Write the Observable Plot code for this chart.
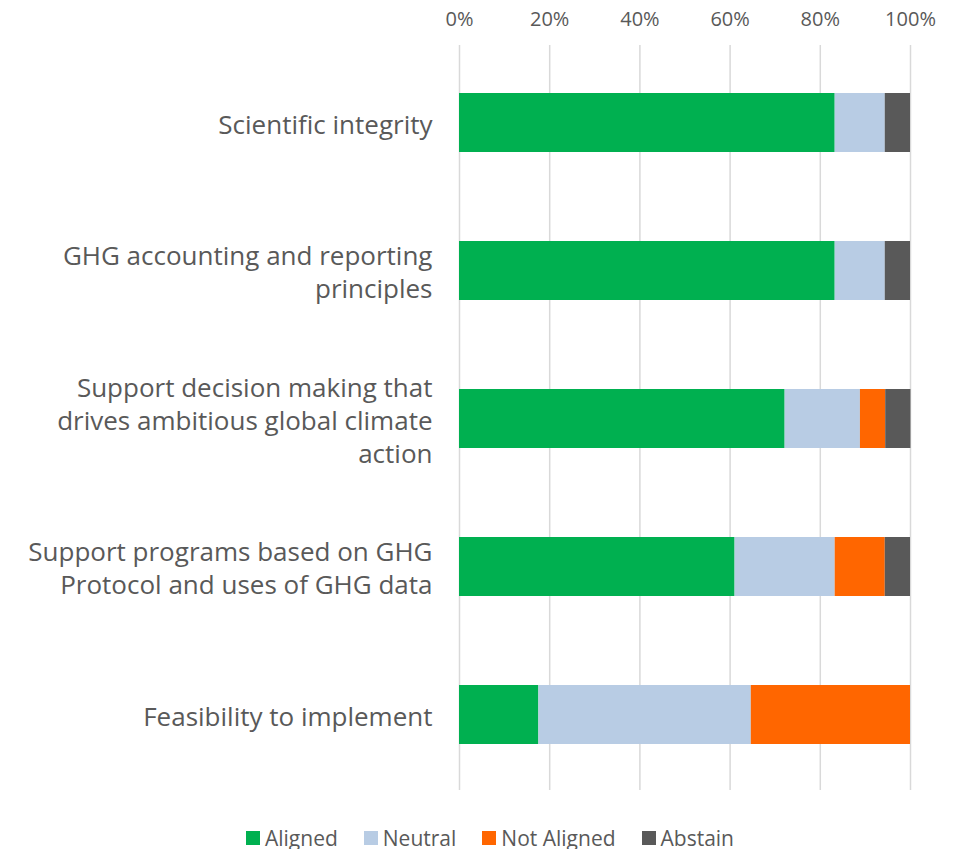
<!DOCTYPE html>
<html>
<head>
<meta charset="utf-8">
<script src="https://cdn.jsdelivr.net/npm/d3@7"></script>
<script src="https://cdn.jsdelivr.net/npm/@observablehq/plot@0.6"></script>
<style>
  body { margin: 0; background: #fff; font-family: "Open Sans", sans-serif; }
  #chart { width: 966px; }
  .legend { display: flex; justify-content: center; gap: 26px; margin-left: 14px; margin-top: 27px; font-size: 21px; line-height: 22px; color: #595959; font-family: "Open Sans", sans-serif; }
  .legend span.item { display: flex; align-items: center; gap: 5px; }
  .legend span.sw { width: 14px; height: 14px; display: inline-block; }
</style>
</head>
<body>
<div id="chart"></div>
<script>
const categories = [
  "Scientific integrity",
  "GHG accounting and reporting principles",
  "Support decision making that drives ambitious global climate action",
  "Support programs based on GHG Protocol and uses of GHG data",
  "Feasibility to implement"
];
const categoryLabels = [
  "Scientific integrity",
  "GHG accounting and reporting\nprinciples",
  "Support decision making that\ndrives ambitious global climate\naction",
  "Support programs based on GHG\nProtocol and uses of GHG data",
  "Feasibility to implement"
];
const seriesNames = ["Aligned", "Neutral", "Not Aligned", "Abstain"];
const seriesColors = ["#00B050", "#B8CCE4", "#FF6600", "#595959"];
const aligned    = [83.3, 83.3, 72.2, 61.1, 17.6];
const neutral    = [11.1, 11.1, 16.7, 22.2, 47.1];
const notAligned = [0.0, 0.0, 5.6, 11.1, 35.3];
const abstain    = [5.6, 5.6, 5.6, 5.6, 0.0];
const xTicks = [0, 20, 40, 60, 80, 100];

const seriesValues = [aligned, neutral, notAligned, abstain];
const rows = [];
categories.forEach((c, i) => {
  seriesNames.forEach((s, j) => {
    rows.push({category: c, series: s, value: seriesValues[j][i]});
  });
});
const labelMap = new Map(categories.map((c, i) => [c, categoryLabels[i]]));

const plot = Plot.plot({
  width: 966,
  height: 800,
  marginTop: 49,
  marginBottom: 11,
  marginLeft: 459,
  marginRight: 56,
  style: {fontFamily: "Open Sans, sans-serif", color: "#595959", background: "#fff"},
  x: {domain: [0, 100], ticks: xTicks, axis: null, label: null},
  y: {domain: categories, paddingInner: 0.6, paddingOuter: 0.3, axis: null, label: null},
  color: {domain: seriesNames, range: seriesColors},
  marks: [
    Plot.ruleX(xTicks, {stroke: "#d9d9d9", strokeWidth: 1.5, insetTop: -4, insetBottom: -1}),
    Plot.axisX({anchor: "top", ticks: xTicks, tickSize: 0, tickPadding: 24, tickFormat: d => d + "%", fontSize: 20, fill: "#595959", label: null}),
    Plot.axisY({anchor: "left", tickSize: 0, tickPadding: 27, tickFormat: d => labelMap.get(d), fontSize: 26, fill: "#595959", lineHeight: 1.27, label: null}),
    Plot.barX(rows, Plot.stackX({y: "category", x: "value", fill: "series", order: seriesNames}))
  ]
});
document.getElementById("chart").appendChild(plot);

const legend = document.createElement("div");
legend.className = "legend";
seriesNames.forEach((s, i) => {
  const item = document.createElement("span");
  item.className = "item";
  const sw = document.createElement("span");
  sw.className = "sw";
  sw.style.background = seriesColors[i];
  item.appendChild(sw);
  item.appendChild(document.createTextNode(s));
  legend.appendChild(item);
});
document.getElementById("chart").appendChild(legend);
</script>
</body>
</html>
